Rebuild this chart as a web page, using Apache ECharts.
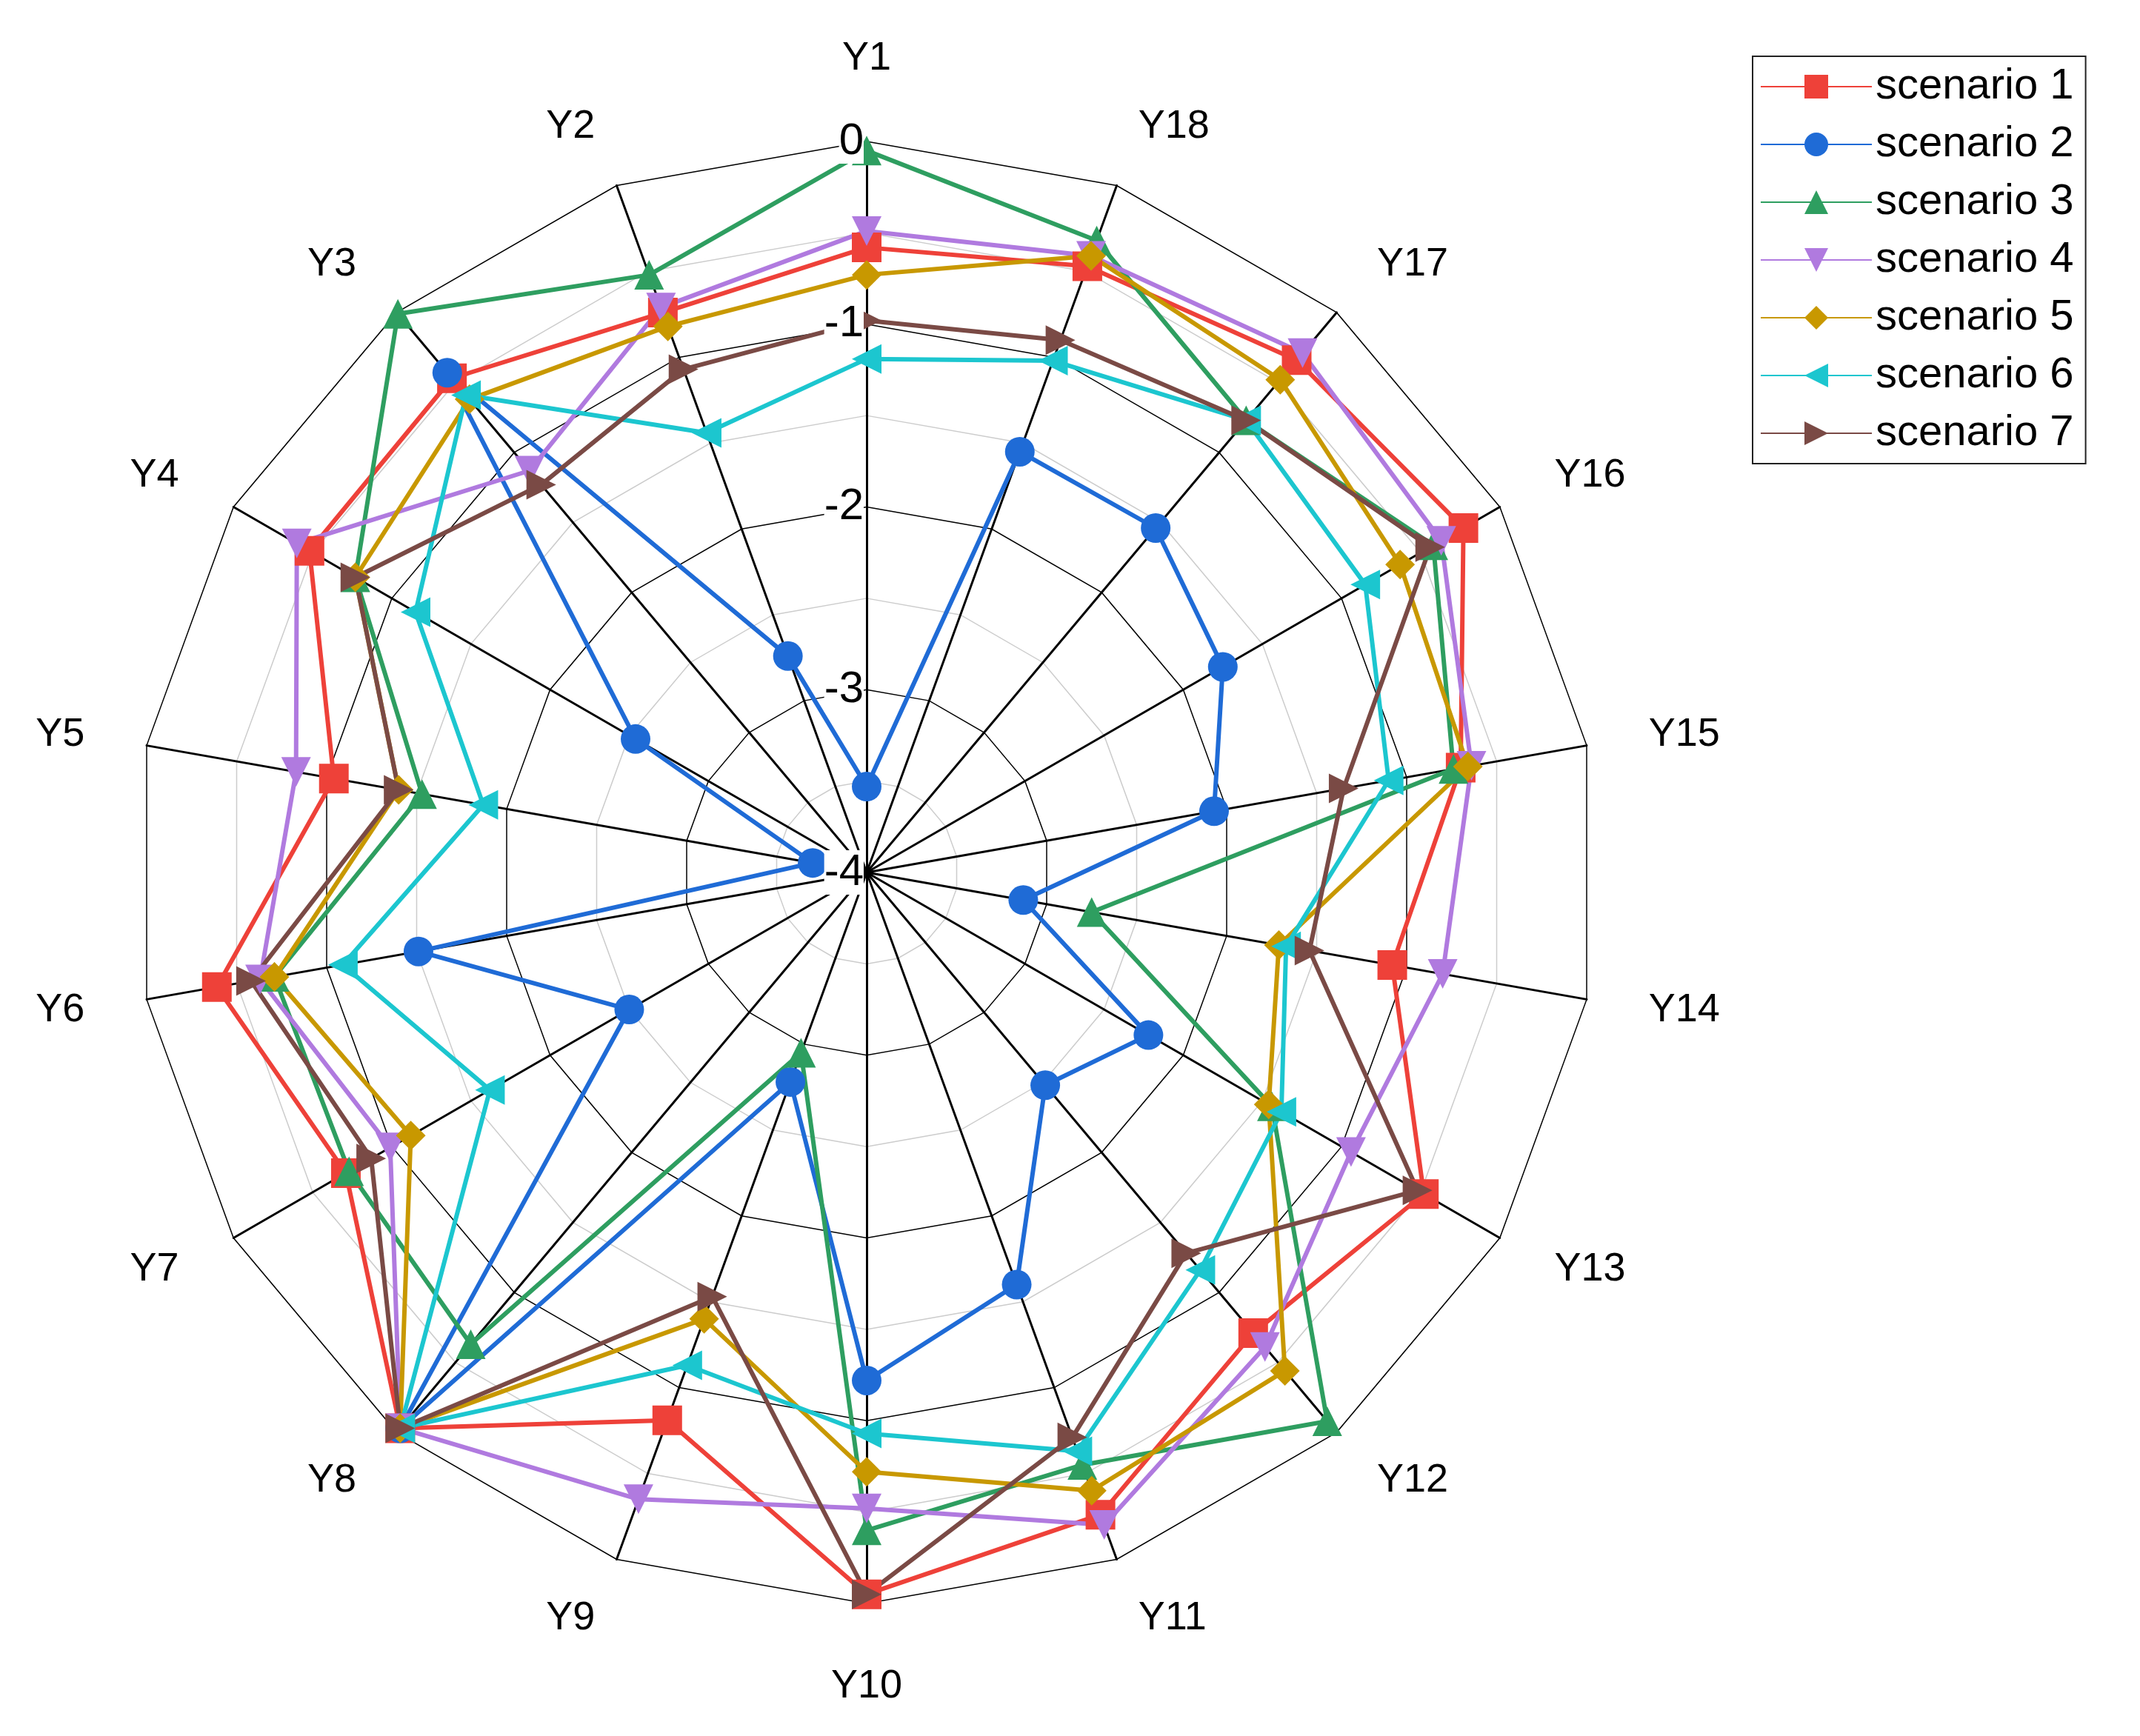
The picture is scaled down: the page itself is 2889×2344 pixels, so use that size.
<!DOCTYPE html>
<html>
<head>
<meta charset="utf-8">
<script src="https://cdn.jsdelivr.net/npm/echarts@6/dist/echarts.min.js"></script>
<style>html,body{margin:0;background:#fff}#charts{width:2889px;height:2344px}</style>
</head>
<body>
<div id="charts"></div>
<script>
const axisNames = ['Y1','Y2','Y3','Y4','Y5','Y6','Y7','Y8','Y9','Y10','Y11','Y12','Y13','Y14','Y15','Y16','Y17','Y18'];
const scenario1 = [-0.58,-0.74,-0.47,-0.48,-1.04,-0.39,-0.71,-0.03,-0.81,-0.05,-0.26,-0.71,-0.48,-1.08,-0.70,-0.23,-0.34,-0.47];
const scenario2 = [-3.53,-2.74,-0.43,-2.54,-3.70,-1.51,-2.50,-0.03,-2.78,-1.22,-1.60,-2.48,-2.22,-3.13,-2.07,-1.75,-1.54,-1.55];
const scenario3 = [-0.05,-0.52,-0.01,-0.77,-1.53,-0.71,-0.73,-0.63,-2.95,-0.40,-0.55,-0.08,-1.44,-2.75,-0.74,-0.42,-0.77,-0.32];
const scenario4 = [-0.49,-0.71,-1.13,-0.40,-0.83,-0.63,-0.99,-0.03,-0.35,-0.52,-0.20,-0.61,-0.94,-0.80,-0.64,-0.37,-0.29,-0.41];
const scenario5 = [-0.73,-0.82,-0.62,-0.77,-1.40,-0.71,-1.12,-0.03,-1.40,-0.72,-0.40,-0.44,-1.46,-1.71,-0.66,-0.63,-0.48,-0.41];
const scenario6 = [-1.19,-1.44,-0.59,-1.15,-1.87,-1.09,-1.62,-0.03,-1.13,-0.93,-0.63,-1.16,-1.38,-1.67,-1.10,-0.85,-0.77,-1.02];
const scenario7 = [-0.98,-1.07,-1.23,-0.77,-1.40,-0.58,-0.87,-0.03,-1.53,-0.05,-0.71,-1.28,-0.52,-1.54,-1.35,-0.44,-0.77,-0.90];
const tickLabels = ['-4','-3','-2','-1','0'];

const seriesDefs = [
    {name: 'scenario 1', data: scenario1, color: '#EE4139', symbol: 'rect', rotate: 0},
    {name: 'scenario 2', data: scenario2, color: '#1F6BD6', symbol: 'circle', rotate: 0},
    {name: 'scenario 3', data: scenario3, color: '#2E9E60', symbol: 'triangle', rotate: 0},
    {name: 'scenario 4', data: scenario4, color: '#B07ADF', symbol: 'triangle', rotate: 180},
    {name: 'scenario 5', data: scenario5, color: '#C89800', symbol: 'diamond', rotate: 0},
    {name: 'scenario 6', data: scenario6, color: '#1CC6CF', symbol: 'triangle', rotate: 90},
    {name: 'scenario 7', data: scenario7, color: '#7A4A45', symbol: 'triangle', rotate: -90}
];

const center = [1170, 1178];
const radius = 987;

// empty line series only for the legend icons (line + marker)
const legendSeries = seriesDefs.map(s => ({
    type: 'line',
    name: s.name,
    data: [],
    symbol: s.symbol,
    symbolSize: 40,
    symbolRotate: s.rotate,
    lineStyle: {color: s.color, width: 6},
    itemStyle: {color: s.color}
}));

const option = {
    animation: false,
    grid: {left: 0, top: 0, width: 1, height: 1, show: false},
    xAxis: {show: false, type: 'value'},
    yAxis: {show: false, type: 'value'},
    legend: {
        orient: 'vertical',
        left: 2366, top: 76,
        padding: [12, 16, 12, 10],
        itemGap: 20,
        itemWidth: 150, itemHeight: 40,
        borderColor: '#222', borderWidth: 2,
        textStyle: {fontFamily: 'Arial, Liberation Sans', fontSize: 58, color: '#000'},
        data: seriesDefs.map(s => s.name)
    },
    radar: {
        center: center,
        radius: radius,
        startAngle: 90,
        shape: 'polygon',
        splitNumber: 8,
        indicator: axisNames.map(n => ({name: n, min: -4, max: 0})),
        axisName: {color: '#000', fontFamily: 'Arial, Liberation Sans', fontSize: 54},
        nameGap: 85,
        axisLine: {lineStyle: {color: '#000', width: 3}},
        splitLine: {lineStyle: {color: ['#000', '#ccc'], width: 1.5}},
        splitArea: {show: false}
    },
    polar: {center: center, radius: radius},
    angleAxis: {show: false, startAngle: 90, min: 0, max: 360},
    radiusAxis: {
        min: -4, max: 0, interval: 1,
        axisLine: {show: false}, axisTick: {show: false}, splitLine: {show: false},
        axisLabel: {
            color: '#000', fontSize: 60, fontFamily: 'Arial, Liberation Sans',
            backgroundColor: '#fff', margin: 4,
            formatter: v => tickLabels[v + 4]
        },
        z: 20
    },
    series: legendSeries.concat([{
        type: 'radar',
        z: 5,
        data: seriesDefs.map(s => ({
            name: s.name,
            value: s.data,
            symbol: s.symbol,
            symbolSize: 40,
            symbolRotate: s.rotate,
            lineStyle: {color: s.color, width: 6},
            itemStyle: {color: s.color}
        }))
    }])
};
const chart = echarts.init(document.getElementById('charts'));
chart.setOption(option);
</script>
</body>
</html>
